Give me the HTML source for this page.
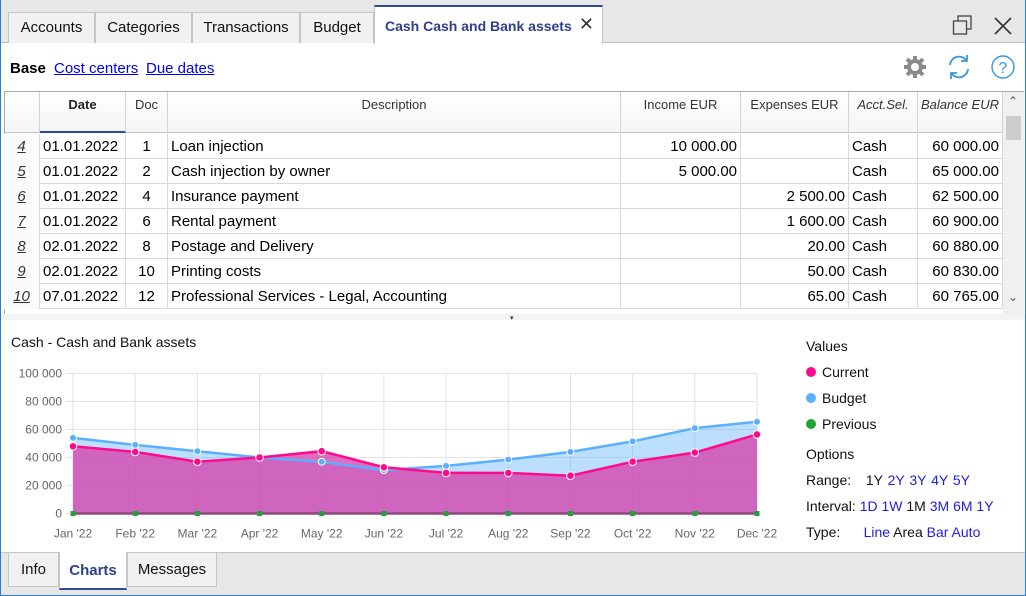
<!DOCTYPE html>
<html><head><meta charset="utf-8"><style>
*{box-sizing:border-box;margin:0;padding:0}
body{width:1026px;height:596px;overflow:hidden;font-family:"Liberation Sans",sans-serif;background:#fff;position:relative;color:#000}
.abs{position:absolute}
.frame{position:absolute;left:0;top:0;width:1026px;height:596px;border:1px solid #2b7bd6;border-top:none;pointer-events:none}
.tabbar{left:0;top:0;width:1026px;height:43px;background:#e7e7e7;border-bottom:1px solid #bdbdbd}
.tab{position:absolute;top:12px;height:31px;background:#f1f1f1;border:1px solid #c5c5c5;border-bottom:none;font-size:15px;line-height:30px;text-align:center;color:#111}
.tab.active{top:5px;height:39px;background:#fff;border-top:2px solid #2f4a9c;color:#2f3f8c;font-weight:bold;text-align:left;padding-left:10px;line-height:38px;font-size:14px}
.link{color:#0000ee;text-decoration:underline;font-size:15px}
.th{position:absolute;top:92px;height:41px;border-right:1px solid #d3d3d3;border-bottom:1px solid #c8c8c8;background:linear-gradient(#fff,#f4f4f4);font-size:13px;color:#333;text-align:center;padding-top:5px}
.row{position:absolute;left:4px;width:998px;height:25px;border-bottom:1px solid #d9d9d9;font-size:15px}
.c{position:absolute;top:0;height:25px;line-height:25px;border-right:1px solid #d9d9d9;white-space:nowrap;overflow:hidden}
.r{text-align:right;padding-right:3px}
.leg{font-size:14px;color:#111}
.blue{color:#2020e0}
</style></head><body>
<div class="abs tabbar">
<div class="tab" style="left:8px;width:87px">Accounts</div>
<div class="tab" style="left:95px;width:97px">Categories</div>
<div class="tab" style="left:192px;width:108px">Transactions</div>
<div class="tab" style="left:300px;width:74px">Budget</div>
<div class="tab active" style="left:374px;width:229px">Cash Cash and Bank assets<span style="position:absolute;right:8px;top:-2px;font-weight:normal;color:#333;font-size:18px">✕</span></div>
<svg class="abs" style="left:952px;top:15px" width="22" height="22"><rect x="6" y="1" width="13" height="13" fill="none" stroke="#444" stroke-width="1.3"/><rect x="1.5" y="6" width="13" height="13" fill="#e7e7e7" stroke="#444" stroke-width="1.3"/></svg>
<svg class="abs" style="left:993px;top:16px" width="20" height="20"><path d="M2 2L18 18M18 2L2 18" stroke="#333" stroke-width="1.6"/></svg>
</div>
<div class="abs" style="left:10px;top:60px;font-size:15px;font-weight:bold">Base</div>
<div class="abs link" style="left:54px;top:60px">Cost centers</div>
<div class="abs link" style="left:146px;top:60px">Due dates</div>
<svg class="abs" style="left:902px;top:54px" width="26" height="26" viewBox="0 0 26 26"><g fill="#8a8a8a"><circle cx="13" cy="13" r="8"/><g stroke="#8a8a8a" stroke-width="4"><path d="M13 2v22M2 13h22M5 5l16 16M21 5L5 21"/></g></g><circle cx="13" cy="13" r="4" fill="#fff"/></svg>
<svg class="abs" style="left:946px;top:53px" width="26" height="28" viewBox="0 0 26 28"><path d="M4 12A9 9 0 0 1 20 7M22 16A9 9 0 0 1 6 21" fill="none" stroke="#3a96dd" stroke-width="1.8"/><path d="M21 2v6h-6M5 26v-6h6" fill="none" stroke="#3a96dd" stroke-width="1.8"/></svg>
<svg class="abs" style="left:990px;top:54px" width="26" height="26"><circle cx="13" cy="13" r="11" fill="none" stroke="#3a96dd" stroke-width="1.4"/><text x="13" y="19" text-anchor="middle" font-size="16" fill="#3a96dd" font-family="Liberation Sans">?</text></svg>

<div class="abs" style="left:4px;top:91px;width:1020px;height:1px;background:#aaa"></div>
<div class="abs" style="left:4px;top:92px;width:1px;height:222px;background:#aaa"></div>
<div class="th" style="left:5px;width:35px"></div>
<div class="th" style="left:40px;width:86px;font-weight:bold;border-bottom:2px solid #2f4a9c;color:#222">Date</div>
<div class="th" style="left:126px;width:42px">Doc</div>
<div class="th" style="left:168px;width:453px">Description</div>
<div class="th" style="left:621px;width:120px">Income EUR</div>
<div class="th" style="left:741px;width:108px">Expenses EUR</div>
<div class="th" style="left:849px;width:69px;font-style:italic">Acct.Sel.</div>
<div class="th" style="left:918px;width:85px;font-style:italic">Balance EUR</div>
<div class="abs" style="left:1003px;top:92px;width:21px;height:222px;background:#f0f0f0">
<div style="position:absolute;left:3px;top:24px;width:15px;height:24px;background:#cdcdcd"></div>
<div style="position:absolute;left:5px;top:2px;font-size:12px;color:#555">⌃</div>
<div style="position:absolute;left:5px;top:198px;font-size:12px;color:#555">⌄</div>
</div>
<div id="rows"></div>
<div class="abs" style="left:1px;top:314px;width:1024px;height:6px;background:#f3f3f3"></div>
<div class="abs" style="left:510px;top:314px;font-size:7px;color:#333">▾</div>

<div class="abs" style="left:11px;top:334px;font-size:14px;color:#111">Cash - Cash and Bank assets</div>
<svg id="chart" class="abs" style="left:0;top:320px" width="790" height="232"></svg>

<div class="abs leg" style="left:806px;top:338px">Values</div>
<div class="abs leg" style="left:806px;top:364px"><span style="display:inline-block;width:10px;height:10px;border-radius:5px;background:#ff0a8c;margin-right:6px"></span>Current</div>
<div class="abs leg" style="left:806px;top:390px"><span style="display:inline-block;width:10px;height:10px;border-radius:5px;background:#5ab0ff;margin-right:6px"></span>Budget</div>
<div class="abs leg" style="left:806px;top:416px"><span style="display:inline-block;width:10px;height:10px;border-radius:5px;background:#22a33a;margin-right:6px"></span>Previous</div>
<div class="abs leg" style="left:806px;top:446px">Options</div>
<div class="abs leg" style="left:806px;top:472px;word-spacing:1px">Range:&nbsp;&nbsp; 1Y <span class="blue">2Y 3Y 4Y 5Y</span></div>
<div class="abs leg" style="left:806px;top:498px">Interval: <span class="blue">1D 1W</span> 1M <span class="blue">3M 6M 1Y</span></div>
<div class="abs leg" style="left:806px;top:524px">Type:&nbsp;&nbsp;&nbsp;&nbsp;&nbsp; <span class="blue">Line</span> Area <span class="blue">Bar Auto</span></div>

<div class="abs" style="left:1px;top:552px;width:1024px;height:43px;background:#e7e7e7;border-top:1px solid #c5c5c5">
<div class="tab" style="left:7px;top:0;width:51px;height:34px;border-top:none;border-bottom:1px solid #c5c5c5;line-height:34px">Info</div>
<div class="tab" style="left:58px;top:-1px;width:68px;height:38px;background:#fff;border-top:none;border-bottom:2px solid #2f4a9c;color:#2f3f8c;font-weight:bold;line-height:38px">Charts</div>
<div class="tab" style="left:126px;top:0;width:90px;height:34px;border-top:none;border-bottom:1px solid #c5c5c5;line-height:34px">Messages</div>
</div>
<div class="frame"></div>
<script>
const rowNums=["4","5","6","7","8","9","10"];
const dates=["01.01.2022","01.01.2022","01.01.2022","01.01.2022","02.01.2022","02.01.2022","07.01.2022"];
const docs=["1","2","4","6","8","10","12"];
const descs=["Loan injection","Cash injection by owner","Insurance payment","Rental payment","Postage and Delivery","Printing costs","Professional Services - Legal, Accounting"];
const incomes=["10 000.00","5 000.00","","","","",""];
const expenses=["","","2 500.00","1 600.00","20.00","50.00","65.00"];
const balances=["60 000.00","65 000.00","62 500.00","60 900.00","60 880.00","60 830.00","60 765.00"];
const rc=document.getElementById('rows');
for(let i=0;i<rowNums.length;i++){
 const r=document.createElement('div');r.className='row';r.style.top=(134+i*25)+'px';
 
 
 r.innerHTML=`<div class="c" style="left:0;width:36px;text-align:center;font-style:italic;text-decoration:underline;color:#333;background:#fafafa">${rowNums[i]}</div>
<div class="c" style="left:36px;width:86px;padding-left:3px">${dates[i]}</div>
<div class="c" style="left:122px;width:42px;text-align:center">${docs[i]}</div>
<div class="c" style="left:164px;width:453px;padding-left:3px">${descs[i]}</div>
<div class="c r" style="left:617px;width:120px">${incomes[i]}</div>
<div class="c r" style="left:737px;width:108px">${expenses[i]}</div>
<div class="c" style="left:845px;width:69px;padding-left:3px">Cash</div>
<div class="c r" style="left:914px;width:85px">${balances[i]}</div>`;
 rc.appendChild(r);
}
const months=["Jan '22","Feb '22","Mar '22","Apr '22","May '22","Jun '22","Jul '22","Aug '22","Sep '22","Oct '22","Nov '22","Dec '22"];
const current=[48000,44000,37000,40000,44500,33000,29000,29000,27000,37000,43500,56500];
const budget=[54000,49000,44500,40000,37000,31000,34000,38500,44000,51500,61000,65500];
const previous=[0,0,0,0,0,0,0,0,0,0,0,0];
const yTicks=[0,20000,40000,60000,80000,100000];
const NS='http://www.w3.org/2000/svg';
const svg=document.getElementById('chart');
const X=i=>73+i*(757-73)/(months.length-1);
const Y=v=>193.5-v*(193.5-53.5)/100000;
function el(t,a,name){const e=document.createElementNS(NS,t);for(const k in a)e.setAttribute(k,a[k]);
 
 
 svg.appendChild(e);return e;}
const fmt=v=>String(v).replace(/\B(?=(\d{3})+(?!\d))/g,' ');
yTicks.forEach(t=>{el('line',{x1:66,x2:757,y1:Y(t),y2:Y(t),stroke:'#e2e2e2'},'y-gridline');
 const tx=el('text',{x:62,y:Y(t)+4,'text-anchor':'end','font-size':12,fill:'#666','font-family':'Liberation Sans'},'y-tick-label');tx.textContent=fmt(t);});
months.forEach((m,i)=>{el('line',{x1:X(i),x2:X(i),y1:Y(100000),y2:Y(0)+5,stroke:'#e2e2e2'},'x-gridline');
 const tx=el('text',{x:X(i),y:Y(0)+24,'text-anchor':'middle','font-size':12,fill:'#666','font-family':'Liberation Sans'},'x-tick-label');tx.textContent=m;});
function area(vals,fill,name){let d=`M${X(0)},${Y(0)}`;vals.forEach((v,i)=>d+=`L${X(i)},${Y(v)}`);d+=`L${X(vals.length-1)},${Y(0)}Z`;el('path',{d,fill},name);}
function line(vals,stroke,name){el('polyline',{points:vals.map((v,i)=>X(i)+','+Y(v)).join(' '),fill:'none',stroke,'stroke-width':2.5},name);}
function pts(vals,fill,name,r){vals.forEach((v,i)=>el('circle',{cx:X(i),cy:Y(v),r,fill,stroke:'#fff','stroke-width':1},name));}
area(budget,'rgba(90,176,255,0.4)','budget-area');
area(current,'rgba(214,60,170,0.75)','current-area');
line(budget,'#5ab0ff','budget-line');
line(current,'#ff0a8c','current-line');
line(previous,'#8a4a80','previous-line');
pts(budget,'#5ab0ff','budget-point',3.5);
pts(current,'#ff0a8c','current-point',3.8);
previous.forEach((v,i)=>el('rect',{x:X(i)-2.5,y:Y(v)-2.5,width:5,height:5,fill:'#22a33a'},'previous-point'));
</script>
</body></html>
